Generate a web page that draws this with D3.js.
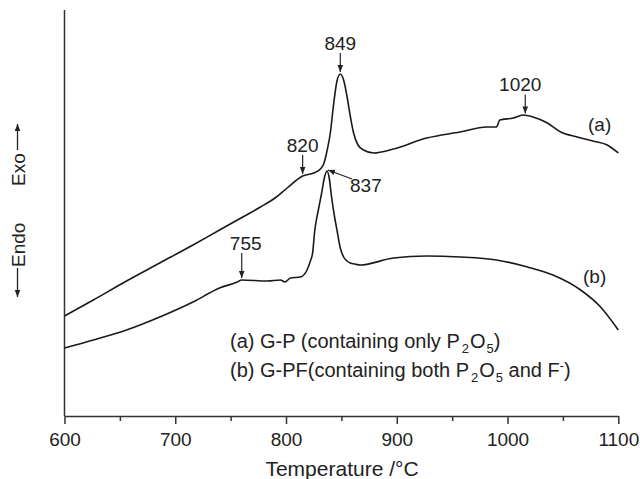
<!DOCTYPE html>
<html>
<head>
<meta charset="utf-8">
<script src="https://cdn.jsdelivr.net/npm/d3@7"></script>
<style>
  html, body { margin: 0; padding: 0; background: #fff; }
  svg { display: block; }
  text { font-family: "Liberation Sans", Arial, sans-serif; fill: #222; }
</style>
</head>
<body>
<svg id="chart" width="640" height="479"></svg>
<script>
// Temperature (°C) and heat-flow (arbitrary units)
const tempA = [600, 626, 656, 686, 716, 740, 761, 777, 790, 801, 815, 825, 831, 834, 837, 840, 843, 846, 849, 852, 855, 858, 861, 865, 870, 879, 897, 927, 957, 981, 990, 993, 1005, 1014, 1023, 1036, 1048, 1063, 1077, 1090, 1100];
const valA  = [100, 116, 135, 153, 171, 186, 199, 209, 218, 228, 240, 243, 247, 252, 265, 283, 312, 335, 342, 336, 320, 300, 283, 271, 266, 263, 267, 278, 284, 289, 289, 296, 298, 301, 299, 293, 284, 279, 275, 271, 263];

const tempB = [600, 626, 656, 686, 716, 740, 756, 760, 783, 795, 799, 804, 813, 819, 822, 824, 826, 829, 832, 835, 837, 839, 841, 844, 846, 849, 852, 855, 858, 862, 867, 897, 927, 957, 990, 1018, 1041, 1066, 1084, 1100];
const valB  = [68, 76, 86, 99, 114, 128, 134, 136, 135, 136, 134, 138, 139, 146, 155, 163, 186, 205, 222, 240, 245, 238, 220, 198, 186, 168, 159, 155, 153, 152, 151, 158, 160, 159, 156, 149, 141, 126, 109, 86];

const majorTicks = [600, 700, 800, 900, 1000, 1100];
const minorTicks = [650, 750, 850, 950, 1050];

// Peak annotations: label, temperature, which curve
const peakLabels = ["820", "849", "1020", "755", "837"];
const peakTemps  = [815, 849, 1016, 760, 837];
const peakCurves = ["a", "a", "a", "b", "b"];

const svg = d3.select("#chart");
const x = d3.scaleLinear().domain([600, 1100]).range([64.5, 618.3]);
const y = d3.scaleLinear().domain([0, 406]).range([416, 10]);

// arrow marker
const defs = svg.append("defs");
defs.append("marker").attr("id", "ah").attr("viewBox", "0 0 10 10")
  .attr("refX", 10).attr("refY", 5).attr("markerWidth", 7).attr("markerHeight", 7)
  .attr("markerUnits", "userSpaceOnUse").attr("orient", "auto")
  .append("path").attr("d", "M0,1 L10,5 L0,9 Z").attr("fill", "#222");

// Axes
const axisColor = "#333";
const gx = svg.append("g").attr("transform", "translate(0,416)");
gx.call(d3.axisBottom(x).tickValues(majorTicks).tickSize(8).tickSizeOuter(0).tickPadding(9).tickFormat(d3.format("d")));
gx.append("g").call(d3.axisBottom(x).tickValues(minorTicks).tickSize(5).tickFormat(""))
  .select(".domain").remove();
gx.selectAll("path.domain").attr("stroke", axisColor).attr("stroke-width", 1.5);
gx.selectAll("line").attr("stroke", axisColor).attr("stroke-width", 1.5);
gx.selectAll("text").attr("font-size", 19).attr("fill", "#222")
  .attr("font-family", "'Liberation Sans', Arial, sans-serif");

svg.append("line").attr("x1", x(600)).attr("x2", x(600)).attr("y1", 10).attr("y2", 416)
  .attr("stroke", axisColor).attr("stroke-width", 1.5);

svg.append("text").attr("x", 342).attr("y", 476).attr("text-anchor", "middle")
  .attr("font-size", 21).html("Temperature /°C");

// Exo / Endo labels
svg.append("text").attr("transform", "translate(25,186) rotate(-90)").attr("font-size", 19).text("Exo");
svg.append("line").attr("x1", 17.5).attr("x2", 17.5).attr("y1", 150).attr("y2", 124)
  .attr("stroke", "#222").attr("stroke-width", 1.3).attr("marker-end", "url(#ah)");
svg.append("text").attr("transform", "translate(25,267) rotate(-90)").attr("font-size", 19).text("Endo");
svg.append("line").attr("x1", 17.5).attr("x2", 17.5).attr("y1", 268).attr("y2", 297)
  .attr("stroke", "#222").attr("stroke-width", 1.3).attr("marker-end", "url(#ah)");

// Curves
const line = d3.line().x(d => x(d[0])).y(d => y(d[1])).curve(d3.curveMonotoneX);
const dataA = tempA.map((t, i) => [t, valA[i]]);
const dataB = tempB.map((t, i) => [t, valB[i]]);
[dataA, dataB].forEach(d => {
  svg.append("path").datum(d).attr("d", line).attr("fill", "none")
    .attr("stroke", "#1a1a1a").attr("stroke-width", 1.6).attr("stroke-linejoin", "round");
});

// curve labels
svg.append("text").attr("x", 588).attr("y", 131).attr("font-size", 19).text("(a)");
svg.append("text").attr("x", 583).attr("y", 283).attr("font-size", 19).text("(b)");

// Peak annotations
const interp = (ts, vs, t) => {
  for (let i = 0; i < ts.length - 1; i++) {
    if (t >= ts[i] && t <= ts[i + 1]) return vs[i] + (vs[i + 1] - vs[i]) * (t - ts[i]) / (ts[i + 1] - ts[i]);
  }
  return vs[vs.length - 1];
};
peakLabels.forEach((lab, i) => {
  const t = peakTemps[i];
  const v = peakCurves[i] === "a" ? interp(tempA, valA, t) : interp(tempB, valB, t);
  const px = x(t), py = y(v);
  if (lab === "837") {
    svg.append("line").attr("x1", px + 25).attr("y1", py + 8).attr("x2", px + 1).attr("y2", py - 1)
      .attr("stroke", "#222").attr("stroke-width", 1.2).attr("marker-end", "url(#ah)");
    svg.append("text").attr("x", px + 23).attr("y", py + 21).attr("font-size", 19).text(lab);
  } else {
    const len = lab === "755" ? 25 : 19;
    svg.append("line").attr("x1", px).attr("y1", py - len - 2).attr("x2", px).attr("y2", py - 2)
      .attr("stroke", "#222").attr("stroke-width", 1.2).attr("marker-end", "url(#ah)");
    const dx = lab === "1020" ? -5 : (lab === "755" ? 4 : 0);
    svg.append("text").attr("x", px + dx).attr("y", py - len - 5).attr("text-anchor", "middle")
      .attr("font-size", 19).text(lab);
  }
});

// Legend
const leg = svg.append("g").attr("font-size", 20);
const l1 = leg.append("text").attr("x", 230).attr("y", 348);
l1.append("tspan").text("(a) G-P (containing only P");
l1.append("tspan").attr("font-size", 13).attr("dx", 2).attr("dy", 5).text("2");
l1.append("tspan").attr("dx", 1).attr("dy", -5).text("O");
l1.append("tspan").attr("font-size", 13).attr("dx", 1).attr("dy", 5).text("5");
l1.append("tspan").attr("dy", -5).text(")");
const l2 = leg.append("text").attr("x", 230).attr("y", 377);
l2.append("tspan").text("(b) G-PF(containing both P");
l2.append("tspan").attr("font-size", 13).attr("dx", 2).attr("dy", 5).text("2");
l2.append("tspan").attr("dx", 1).attr("dy", -5).text("O");
l2.append("tspan").attr("font-size", 13).attr("dx", 1).attr("dy", 5).text("5");
l2.append("tspan").attr("dy", -5).text(" and F");
l2.append("tspan").attr("font-size", 13).attr("dy", -7).text("-");
l2.append("tspan").attr("dy", 7).text(")");
</script>
</body>
</html>
